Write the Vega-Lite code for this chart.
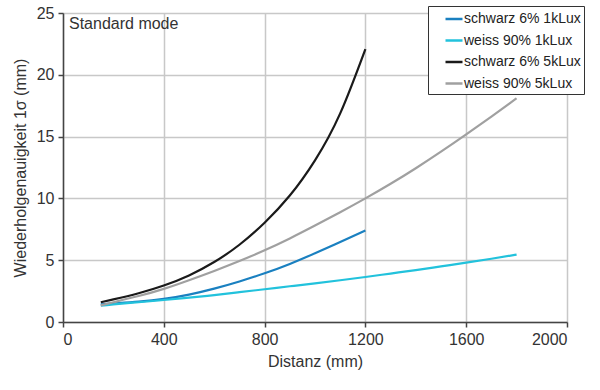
{
  "$schema": "https://vega.github.io/schema/vega-lite/v6.json",
  "autosize": "none",
  "width": 504,
  "height": 309,
  "padding": {"left": 63, "top": 13, "right": 33, "bottom": 68},
  "background": "white",
  "config": {
    "font": "Liberation Sans",
    "view": {"stroke": null}
  },
  "datasets": {
    "curves": [
      {"s": "schwarz 6% 1kLux", "x": 150, "y": 1.42},
      {"s": "schwarz 6% 1kLux", "x": 200, "y": 1.5},
      {"s": "schwarz 6% 1kLux", "x": 300, "y": 1.65},
      {"s": "schwarz 6% 1kLux", "x": 400, "y": 1.87},
      {"s": "schwarz 6% 1kLux", "x": 500, "y": 2.22},
      {"s": "schwarz 6% 1kLux", "x": 600, "y": 2.7},
      {"s": "schwarz 6% 1kLux", "x": 700, "y": 3.28},
      {"s": "schwarz 6% 1kLux", "x": 800, "y": 3.94},
      {"s": "schwarz 6% 1kLux", "x": 900, "y": 4.7},
      {"s": "schwarz 6% 1kLux", "x": 1000, "y": 5.56},
      {"s": "schwarz 6% 1kLux", "x": 1100, "y": 6.48},
      {"s": "schwarz 6% 1kLux", "x": 1200, "y": 7.4},
      {"s": "weiss 90% 1kLux", "x": 150, "y": 1.32},
      {"s": "weiss 90% 1kLux", "x": 200, "y": 1.43},
      {"s": "weiss 90% 1kLux", "x": 300, "y": 1.6},
      {"s": "weiss 90% 1kLux", "x": 400, "y": 1.78},
      {"s": "weiss 90% 1kLux", "x": 500, "y": 1.97},
      {"s": "weiss 90% 1kLux", "x": 600, "y": 2.18},
      {"s": "weiss 90% 1kLux", "x": 700, "y": 2.41},
      {"s": "weiss 90% 1kLux", "x": 800, "y": 2.65},
      {"s": "weiss 90% 1kLux", "x": 900, "y": 2.89},
      {"s": "weiss 90% 1kLux", "x": 1000, "y": 3.13},
      {"s": "weiss 90% 1kLux", "x": 1100, "y": 3.38},
      {"s": "weiss 90% 1kLux", "x": 1200, "y": 3.64},
      {"s": "weiss 90% 1kLux", "x": 1300, "y": 3.92},
      {"s": "weiss 90% 1kLux", "x": 1400, "y": 4.2},
      {"s": "weiss 90% 1kLux", "x": 1500, "y": 4.5},
      {"s": "weiss 90% 1kLux", "x": 1600, "y": 4.8},
      {"s": "weiss 90% 1kLux", "x": 1700, "y": 5.12},
      {"s": "weiss 90% 1kLux", "x": 1800, "y": 5.45},
      {"s": "schwarz 6% 5kLux", "x": 150, "y": 1.6},
      {"s": "schwarz 6% 5kLux", "x": 200, "y": 1.83},
      {"s": "schwarz 6% 5kLux", "x": 300, "y": 2.33},
      {"s": "schwarz 6% 5kLux", "x": 400, "y": 2.95},
      {"s": "schwarz 6% 5kLux", "x": 500, "y": 3.77},
      {"s": "schwarz 6% 5kLux", "x": 600, "y": 4.85},
      {"s": "schwarz 6% 5kLux", "x": 700, "y": 6.25},
      {"s": "schwarz 6% 5kLux", "x": 800, "y": 8.03},
      {"s": "schwarz 6% 5kLux", "x": 900, "y": 10.23},
      {"s": "schwarz 6% 5kLux", "x": 1000, "y": 13.08},
      {"s": "schwarz 6% 5kLux", "x": 1100, "y": 16.88},
      {"s": "schwarz 6% 5kLux", "x": 1200, "y": 22.08},
      {"s": "weiss 90% 5kLux", "x": 150, "y": 1.35},
      {"s": "weiss 90% 5kLux", "x": 200, "y": 1.6},
      {"s": "weiss 90% 5kLux", "x": 300, "y": 2.1},
      {"s": "weiss 90% 5kLux", "x": 400, "y": 2.68},
      {"s": "weiss 90% 5kLux", "x": 500, "y": 3.38},
      {"s": "weiss 90% 5kLux", "x": 600, "y": 4.13},
      {"s": "weiss 90% 5kLux", "x": 700, "y": 4.93},
      {"s": "weiss 90% 5kLux", "x": 800, "y": 5.8},
      {"s": "weiss 90% 5kLux", "x": 900, "y": 6.76},
      {"s": "weiss 90% 5kLux", "x": 1000, "y": 7.8},
      {"s": "weiss 90% 5kLux", "x": 1100, "y": 8.88},
      {"s": "weiss 90% 5kLux", "x": 1200, "y": 10.0},
      {"s": "weiss 90% 5kLux", "x": 1300, "y": 11.18},
      {"s": "weiss 90% 5kLux", "x": 1400, "y": 12.44},
      {"s": "weiss 90% 5kLux", "x": 1500, "y": 13.78},
      {"s": "weiss 90% 5kLux", "x": 1600, "y": 15.18},
      {"s": "weiss 90% 5kLux", "x": 1700, "y": 16.62},
      {"s": "weiss 90% 5kLux", "x": 1800, "y": 18.1}
    ]
  },
  "layer": [
    {
      "data": {"name": "curves"},
      "mark": {"type": "line", "strokeWidth": 2.2, "interpolate": "natural"},
      "encoding": {
        "x": {
          "field": "x", "type": "quantitative",
          "scale": {"domain": [0, 2000], "nice": false},
          "axis": {
            "values": [0, 400, 800, 1200, 1600, 2000],
            "format": "d",
            "title": "Distanz (mm)",
            "titleFont": "Liberation Sans", "titleFontSize": 16, "titleFontWeight": "normal", "titleColor": "#333",
            "titlePadding": 6,
            "labelFontSize": 16, "labelColor": "#333", "labelPadding": 4,
            "domainColor": "#444", "domainWidth": 1.5,
            "tickColor": "#444", "tickSize": 5, "tickWidth": 1.5,
            "gridColor": "#c8c8c8", "gridWidth": 1.5
          }
        },
        "y": {
          "field": "y", "type": "quantitative",
          "scale": {"domain": [0, 25], "nice": false},
          "axis": {
            "values": [0, 5, 10, 15, 20, 25],
            "title": "Wiederholgenauigkeit 1σ (mm)",
            "titleFont": "Liberation Sans", "titleFontSize": 16, "titleFontWeight": "normal", "titleColor": "#333",
            "titlePadding": 8,
            "labelFontSize": 16, "labelColor": "#333", "labelPadding": 4,
            "domainColor": "#444", "domainWidth": 1.5,
            "tickColor": "#444", "tickSize": 5, "tickWidth": 1.5,
            "gridColor": "#c8c8c8", "gridWidth": 1.5
          }
        },
        "color": {
          "field": "s", "type": "nominal",
          "scale": {
            "domain": ["schwarz 6% 1kLux", "weiss 90% 1kLux", "schwarz 6% 5kLux", "weiss 90% 5kLux"],
            "range": ["#1a80c0", "#22c2dc", "#1a1a1a", "#a0a0a0"]
          },
          "legend": {
            "title": null,
            "orient": "none",
            "legendX": 365,
            "legendY": -7,
            "symbolType": "stroke",
            "symbolSize": 289,
            "symbolStrokeWidth": 2.5,
            "symbolOffset": 13,
            "labelFontSize": 14,
            "labelColor": "#222",
            "labelOffset": 0,
            "rowPadding": 4.5,
            "padding": 3,
            "fillColor": "white",
            "strokeColor": "#333",
            "labelLimit": 200
          }
        },
        "detail": {"field": "s"}
      }
    },
    {
      "data": {"values": [{}]},
      "mark": {"type": "text", "text": "Standard mode", "align": "left", "baseline": "top", "dx": 6, "dy": 3, "fontSize": 16, "color": "#333", "font": "Liberation Sans"},
      "encoding": {
        "x": {"datum": 0, "type": "quantitative"},
        "y": {"datum": 25, "type": "quantitative"}
      }
    }
  ]
}
